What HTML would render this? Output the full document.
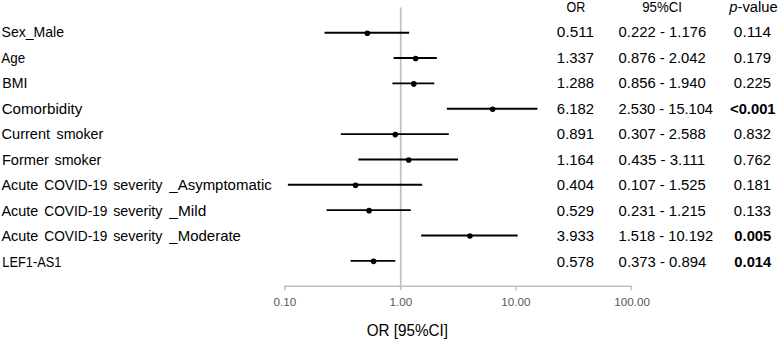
<!DOCTYPE html>
<html><head><meta charset="utf-8"><style>
html,body{margin:0;padding:0;background:#fff;}
body{width:778px;height:340px;overflow:hidden;}
svg{display:block;font-family:"Liberation Sans",sans-serif;}
</style></head><body>
<svg width="778" height="340" viewBox="0 0 778 340">
<rect width="778" height="340" fill="#fff"/>
<line x1="400.75" y1="7.5" x2="400.75" y2="286.5" stroke="#c2c2c2" stroke-width="1.8"/>
<line x1="284.0" y1="286.3" x2="632.1" y2="286.3" stroke="#bfbfbf" stroke-width="1.5"/>
<line x1="284.75" y1="286" x2="284.75" y2="290.2" stroke="#bfbfbf" stroke-width="1.5"/>
<line x1="400.70" y1="286" x2="400.70" y2="290.2" stroke="#bfbfbf" stroke-width="1.5"/>
<line x1="516.00" y1="286" x2="516.00" y2="290.2" stroke="#bfbfbf" stroke-width="1.5"/>
<line x1="631.35" y1="286" x2="631.35" y2="290.2" stroke="#bfbfbf" stroke-width="1.5"/>
<line x1="324.57" y1="32.70" x2="409.15" y2="32.70" stroke="#000" stroke-width="1.9"/>
<circle cx="367.36" cy="33.20" r="2.8" fill="#000"/>
<text transform="translate(1.60,37.10) scale(0.9528,1)" font-size="14.75" font-weight="normal" font-style="normal" fill="#000">Sex_Male</text>
<text transform="translate(556.85,37.10) scale(1.0415,1)" font-size="14.75" font-weight="normal" font-style="normal" fill="#000">0.511</text>
<text transform="translate(618.60,37.10) scale(1.0088,1)" font-size="14.75" font-weight="normal" font-style="normal" fill="#000">0.222 - 1.176</text>
<text transform="translate(733.85,37.10) scale(1.0415,1)" font-size="14.75" font-weight="normal" font-style="normal" fill="#000">0.114</text>
<line x1="393.55" y1="58.05" x2="436.87" y2="58.05" stroke="#000" stroke-width="1.9"/>
<circle cx="415.69" cy="58.55" r="2.8" fill="#000"/>
<text transform="translate(1.30,62.60) scale(0.9108,1)" font-size="14.75" font-weight="normal" font-style="normal" fill="#000">Age</text>
<text transform="translate(556.85,62.60) scale(1.0107,1)" font-size="14.75" font-weight="normal" font-style="normal" fill="#000">1.337</text>
<text transform="translate(618.60,62.60) scale(1.0042,1)" font-size="14.75" font-weight="normal" font-style="normal" fill="#000">0.876 - 2.042</text>
<text transform="translate(733.85,62.60) scale(1.0107,1)" font-size="14.75" font-weight="normal" font-style="normal" fill="#000">0.179</text>
<line x1="392.39" y1="83.40" x2="434.30" y2="83.40" stroke="#000" stroke-width="1.9"/>
<circle cx="413.82" cy="83.90" r="2.8" fill="#000"/>
<text transform="translate(2.30,88.10) scale(0.9571,1)" font-size="14.75" font-weight="normal" font-style="normal" fill="#000">BMI</text>
<text transform="translate(556.85,88.10) scale(1.0107,1)" font-size="14.75" font-weight="normal" font-style="normal" fill="#000">1.288</text>
<text transform="translate(618.60,88.10) scale(1.0042,1)" font-size="14.75" font-weight="normal" font-style="normal" fill="#000">0.856 - 1.940</text>
<text transform="translate(733.85,88.10) scale(1.0107,1)" font-size="14.75" font-weight="normal" font-style="normal" fill="#000">0.225</text>
<line x1="446.84" y1="108.75" x2="537.42" y2="108.75" stroke="#000" stroke-width="1.9"/>
<circle cx="492.63" cy="109.25" r="2.8" fill="#000"/>
<text transform="translate(1.70,113.60) scale(1.0255,1)" font-size="14.75" font-weight="normal" font-style="normal" fill="#000">Comorbidity</text>
<text transform="translate(556.85,113.60) scale(1.0107,1)" font-size="14.75" font-weight="normal" font-style="normal" fill="#000">6.182</text>
<text transform="translate(618.60,113.60) scale(0.9933,1)" font-size="14.75" font-weight="normal" font-style="normal" fill="#000">2.530 - 15.104</text>
<text transform="translate(730.04,113.60) scale(1.0000,1)" font-size="14.75" font-weight="bold" font-style="normal" fill="#000">&lt;0.001</text>
<line x1="340.86" y1="134.10" x2="448.78" y2="134.10" stroke="#000" stroke-width="1.9"/>
<circle cx="395.30" cy="134.60" r="2.8" fill="#000"/>
<text transform="translate(1.50,139.10) scale(0.9900,1)" font-size="14.75" font-weight="normal" font-style="normal" fill="#000">Current</text>
<text transform="translate(56.50,139.10) scale(0.9679,1)" font-size="14.75" font-weight="normal" font-style="normal" fill="#000">smoker</text>
<text transform="translate(556.85,139.10) scale(1.0107,1)" font-size="14.75" font-weight="normal" font-style="normal" fill="#000">0.891</text>
<text transform="translate(618.60,139.10) scale(1.0042,1)" font-size="14.75" font-weight="normal" font-style="normal" fill="#000">0.307 - 2.588</text>
<text transform="translate(733.85,139.10) scale(1.0107,1)" font-size="14.75" font-weight="normal" font-style="normal" fill="#000">0.832</text>
<line x1="358.37" y1="159.45" x2="458.03" y2="159.45" stroke="#000" stroke-width="1.9"/>
<circle cx="408.73" cy="159.95" r="2.8" fill="#000"/>
<text transform="translate(1.90,164.60) scale(0.9911,1)" font-size="14.75" font-weight="normal" font-style="normal" fill="#000">Former</text>
<text transform="translate(54.60,164.60) scale(0.9679,1)" font-size="14.75" font-weight="normal" font-style="normal" fill="#000">smoker</text>
<text transform="translate(556.85,164.60) scale(1.0107,1)" font-size="14.75" font-weight="normal" font-style="normal" fill="#000">1.164</text>
<text transform="translate(618.60,164.60) scale(1.0220,1)" font-size="14.75" font-weight="normal" font-style="normal" fill="#000">0.435 - 3.111</text>
<text transform="translate(733.85,164.60) scale(1.0107,1)" font-size="14.75" font-weight="normal" font-style="normal" fill="#000">0.762</text>
<line x1="287.90" y1="184.80" x2="422.20" y2="184.80" stroke="#000" stroke-width="1.9"/>
<circle cx="355.56" cy="185.30" r="2.8" fill="#000"/>
<text transform="translate(1.40,190.10) scale(0.9810,1)" font-size="14.75" font-weight="normal" font-style="normal" fill="#000">Acute</text>
<text transform="translate(44.30,190.10) scale(0.9290,1)" font-size="14.75" font-weight="normal" font-style="normal" fill="#000">COVID-19</text>
<text transform="translate(113.20,190.10) scale(0.9702,1)" font-size="14.75" font-weight="normal" font-style="normal" fill="#000">severity</text>
<text transform="translate(169.34,190.10) scale(1.0163,1)" font-size="14.75" font-weight="normal" font-style="normal" fill="#000">_Asymptomatic</text>
<text transform="translate(556.85,190.10) scale(1.0107,1)" font-size="14.75" font-weight="normal" font-style="normal" fill="#000">0.404</text>
<text transform="translate(618.60,190.10) scale(1.0042,1)" font-size="14.75" font-weight="normal" font-style="normal" fill="#000">0.107 - 1.525</text>
<text transform="translate(733.85,190.10) scale(1.0107,1)" font-size="14.75" font-weight="normal" font-style="normal" fill="#000">0.181</text>
<line x1="326.57" y1="210.15" x2="410.79" y2="210.15" stroke="#000" stroke-width="1.9"/>
<circle cx="369.10" cy="210.65" r="2.8" fill="#000"/>
<text transform="translate(1.40,215.60) scale(0.9810,1)" font-size="14.75" font-weight="normal" font-style="normal" fill="#000">Acute</text>
<text transform="translate(44.30,215.60) scale(0.9290,1)" font-size="14.75" font-weight="normal" font-style="normal" fill="#000">COVID-19</text>
<text transform="translate(113.20,215.60) scale(0.9702,1)" font-size="14.75" font-weight="normal" font-style="normal" fill="#000">severity</text>
<text transform="translate(169.35,215.60) scale(1.0482,1)" font-size="14.75" font-weight="normal" font-style="normal" fill="#000">_Mild</text>
<text transform="translate(556.85,215.60) scale(1.0107,1)" font-size="14.75" font-weight="normal" font-style="normal" fill="#000">0.529</text>
<text transform="translate(618.60,215.60) scale(1.0053,1)" font-size="14.75" font-weight="normal" font-style="normal" fill="#000">0.231 - 1.215</text>
<text transform="translate(733.85,215.60) scale(1.0107,1)" font-size="14.75" font-weight="normal" font-style="normal" fill="#000">0.133</text>
<line x1="421.17" y1="235.50" x2="517.66" y2="235.50" stroke="#000" stroke-width="1.9"/>
<circle cx="469.91" cy="236.00" r="2.8" fill="#000"/>
<text transform="translate(1.40,241.10) scale(0.9810,1)" font-size="14.75" font-weight="normal" font-style="normal" fill="#000">Acute</text>
<text transform="translate(44.30,241.10) scale(0.9290,1)" font-size="14.75" font-weight="normal" font-style="normal" fill="#000">COVID-19</text>
<text transform="translate(113.20,241.10) scale(0.9702,1)" font-size="14.75" font-weight="normal" font-style="normal" fill="#000">severity</text>
<text transform="translate(169.34,241.10) scale(1.0162,1)" font-size="14.75" font-weight="normal" font-style="normal" fill="#000">_Moderate</text>
<text transform="translate(556.85,241.10) scale(1.0107,1)" font-size="14.75" font-weight="normal" font-style="normal" fill="#000">3.933</text>
<text transform="translate(618.60,241.10) scale(0.9944,1)" font-size="14.75" font-weight="normal" font-style="normal" fill="#000">1.518 - 10.192</text>
<text transform="translate(734.35,241.10) scale(1.0000,1)" font-size="14.75" font-weight="bold" font-style="normal" fill="#000">0.005</text>
<line x1="350.65" y1="260.85" x2="395.37" y2="260.85" stroke="#000" stroke-width="1.9"/>
<circle cx="373.56" cy="261.35" r="2.8" fill="#000"/>
<text transform="translate(2.30,266.60) scale(0.8701,1)" font-size="14.75" font-weight="normal" font-style="normal" fill="#000">LEF1-AS1</text>
<text transform="translate(556.85,266.60) scale(1.0107,1)" font-size="14.75" font-weight="normal" font-style="normal" fill="#000">0.578</text>
<text transform="translate(618.60,266.60) scale(1.0099,1)" font-size="14.75" font-weight="normal" font-style="normal" fill="#000">0.373 - 0.894</text>
<text transform="translate(734.35,266.60) scale(1.0000,1)" font-size="14.75" font-weight="bold" font-style="normal" fill="#000">0.014</text>
<text transform="translate(566.50,12.00) scale(0.8497,1)" font-size="14.75" font-weight="normal" font-style="normal" fill="#000">OR</text>
<text transform="translate(642.20,12.00) scale(0.8991,1)" font-size="14.75" font-weight="normal" font-style="normal" fill="#000">95%CI</text>
<text x="729.27" y="12.0" font-size="14.75" fill="#000"><tspan font-style="italic">p</tspan>-value</text>
<text transform="translate(273.47,305.90) scale(1.0000,1)" font-size="11.7" font-weight="normal" font-style="normal" fill="#595959">0.10</text>
<text transform="translate(389.47,305.90) scale(1.0000,1)" font-size="11.7" font-weight="normal" font-style="normal" fill="#595959">1.00</text>
<text transform="translate(501.26,305.90) scale(1.0000,1)" font-size="11.7" font-weight="normal" font-style="normal" fill="#595959">10.00</text>
<text transform="translate(614.25,305.90) scale(1.0000,1)" font-size="11.7" font-weight="normal" font-style="normal" fill="#595959">100.00</text>
<text transform="translate(366.70,335.50) scale(0.9258,1)" font-size="16.5" font-weight="normal" font-style="normal" fill="#000">OR [95%CI]</text>
</svg>
</body></html>
